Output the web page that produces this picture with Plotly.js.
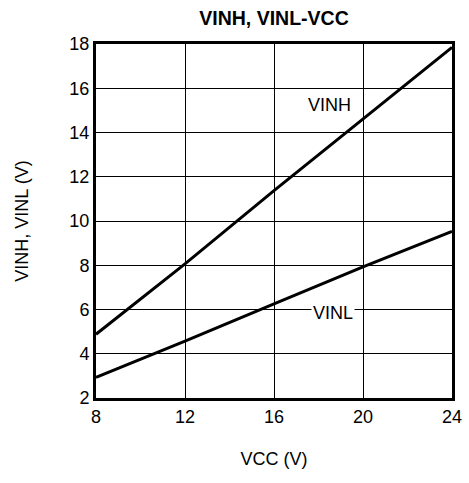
<!DOCTYPE html>
<html>
<head>
<meta charset="utf-8">
<script src="https://cdn.plot.ly/plotly-3.0.1.min.js"></script>
<style>html,body{margin:0;padding:0;background:#fff;}#chart{width:469px;height:483px;}</style>
</head>
<body>
<div id="chart"></div>
<script>
const vcc = [8, 12, 16, 20, 24];
const vinh = [4.88, 8.06, 11.37, 14.6, 17.85];
const vinl = [2.93, 4.57, 6.25, 7.93, 9.53];
const xTicks = [8, 12, 16, 20, 24];
const yTicks = [2, 4, 6, 8, 10, 12, 14, 16, 18];
const labels = ["VINH", "VINL"];

const font = {family: "Liberation Sans, Arial, sans-serif", color: "#000", size: 18};

const traces = [
  {x: vcc, y: vinh, mode: "lines", name: labels[0], line: {color: "#000", width: 3}},
  {x: vcc, y: vinl, mode: "lines", name: labels[1], line: {color: "#000", width: 3}}
];

const layout = {
  width: 469, height: 483,
  margin: {l: 96, r: 17, t: 44, b: 85},
  paper_bgcolor: "#fff", plot_bgcolor: "#fff",
  showlegend: false,
  font: font,
  title: {text: "<b>VINH, VINL-VCC</b>", font: {family: font.family, size: 19.5, color: "#000"},
          x: 0.5, xref: "paper", y: 1 - 18/483, yref: "container", yanchor: "middle"},
  xaxis: {
    range: [8, 24], tickvals: xTicks, ticktext: xTicks.map(String),
    showgrid: true, gridcolor: "#000", gridwidth: 1, zeroline: false,
    showline: true, linecolor: "#000", linewidth: 3, mirror: true,
    ticks: "", tickfont: {size: 18}, automargin: false,
    title: {text: "VCC (V)", font: {size: 18}, standoff: 27}
  },
  yaxis: {
    range: [2, 18], tickvals: yTicks, ticktext: yTicks.map(String),
    showgrid: true, gridcolor: "#000", gridwidth: 1, zeroline: false,
    showline: true, linecolor: "#000", linewidth: 3, mirror: true,
    ticks: "", tickfont: {size: 18}, automargin: false,
    title: {text: "VINH, VINL (V)", font: {size: 18}, standoff: 37}
  },
  annotations: [
    {x: 18.5, y: 15.25, xref: "x", yref: "y", text: labels[0], showarrow: false,
     font: {size: 18}},
    {x: 18.67, y: 5.85, xref: "x", yref: "y", text: labels[1], showarrow: false,
     font: {size: 18}, bgcolor: "#fff", borderpad: 1}
  ]
};

Plotly.newPlot("chart", traces, layout, {displayModeBar: false, staticPlot: true});
</script>
</body>
</html>
